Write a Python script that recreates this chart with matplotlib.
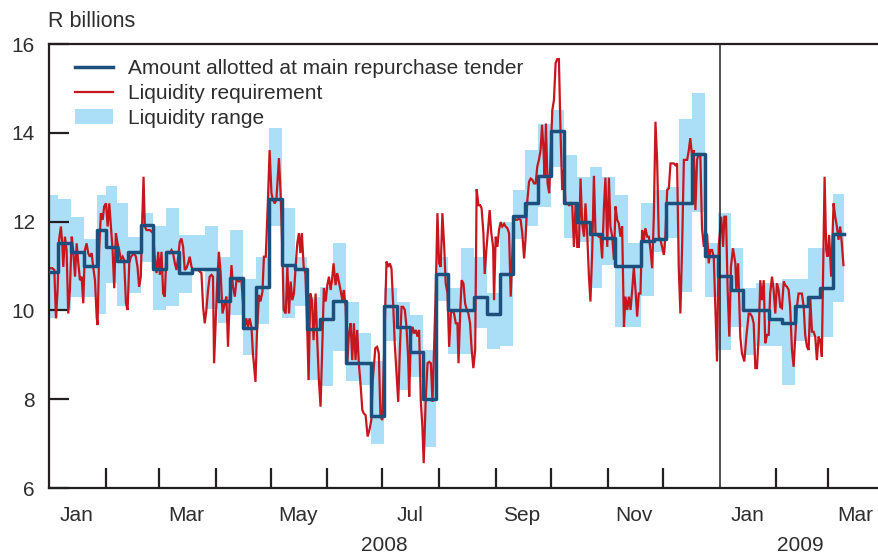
import numpy as np
import pandas as pd
import matplotlib
matplotlib.use("Agg")
import matplotlib.pyplot as plt
import matplotlib.dates as mdates
import matplotlib.transforms as mtransforms
from matplotlib.patches import Patch
from matplotlib.lines import Line2D

plt.rcParams['font.family'] = ['Liberation Sans', 'DejaVu Sans']

# ---------------- data ----------------
# start dates of each allotment / range period (irregular in Jan 2008, then weekly)
early_starts = ['2008-01-01', '2008-01-06', '2008-01-13', '2008-01-20',
                '2008-01-27', '2008-02-01', '2008-02-07']
weekly_first = '2008-02-13'
weekly_count = 56
last_end = '2009-03-10'

allotted = [10.87, 11.51, 11.31, 11.0, 11.81, 11.42, 11.11,
            11.31, 11.92, 10.93, 11.31, 10.84, 10.93, 10.93, 10.21, 10.72, 9.61,
            10.52, 12.52, 11.02, 10.93, 9.59, 9.81, 10.21, 8.81, 8.81, 7.62,
            10.11, 9.62, 9.07, 8.0, 10.81, 10.02, 10.02, 10.31, 9.92, 10.81,
            12.13, 12.43, 13.03, 14.03, 12.41, 12.0, 11.72, 11.62, 11.01, 11.01,
            11.56, 11.61, 12.41, 12.41, 13.52, 11.22, 10.77, 10.46, 10.0, 10.0,
            9.81, 9.72, 10.11, 10.31, 10.51, 11.72]

range_low = [9.82, 10.0, 10.31, 10.31, 9.91, 10.61, 10.11,
             10.4, 11.1, 10.01, 10.11, 10.4, 10.9, 10.03, 9.71, 9.9, 9.0,
             9.69, 11.9, 9.82, 10.1, 8.43, 8.3, 9.09, 8.4, 8.31, 7.0,
             9.32, 8.2, 8.51, 6.92, 10.21, 9.02, 9.02, 9.61, 9.12, 9.2,
             11.6, 11.9, 12.32, 13.22, 11.62, 11.55, 10.51, 11.02, 9.62, 9.62,
             10.32, 11.32, 11.62, 10.42, 12.22, 10.31, 9.11, 9.62, 9.0, 9.2,
             9.2, 8.32, 9.3, 9.41, 9.41, 10.2]

range_high = [12.6, 12.5, 12.11, 11.6, 12.61, 12.8, 12.41,
              11.65, 12.2, 11.9, 12.3, 11.7, 11.7, 11.9, 11.21, 11.81, 10.7,
              11.21, 14.1, 12.31, 11.21, 10.31, 10.53, 11.51, 10.2, 9.48, 8.85,
              10.5, 10.2, 9.9, 9.1, 11.21, 10.5, 11.4, 11.2, 10.4, 12.0,
              12.71, 13.61, 14.2, 14.51, 13.5, 13.01, 13.22, 13.01, 12.6, 11.51,
              12.41, 12.71, 12.79, 14.3, 14.9, 11.51, 12.2, 11.4, 10.5, 10.61,
              10.61, 10.7, 10.7, 11.4, 11.4, 12.62]

# liquidity requirement: days since 2008-01-01 and values (R billions)
req_day = [
    0.5, 1.8, 2.9, 3.8, 4.7, 5.5, 6.5, 7.2, 7.8, 8.7,
    9.6, 10.5, 11.4, 12.4, 13.2, 14.2, 15.1, 16.0, 16.9, 17.8,
    18.7, 19.6, 20.5, 21.4, 22.3, 23.3, 24.1, 25.1, 26.0, 26.5,
    27.4, 28.3, 29.3, 30.1, 31.1, 32.0, 32.9, 33.8, 34.7, 35.6,
    36.5, 37.4, 38.3, 39.2, 40.2, 41.0, 42.0, 42.9, 43.8, 44.7,
    45.6, 46.5, 47.4, 48.3, 49.2, 50.1, 50.8, 51.6, 52.3, 53.2,
    54.1, 55.0, 56.0, 56.8, 57.8, 58.7, 59.6, 60.5, 61.4, 62.3,
    63.2, 64.1, 65.0, 65.9, 66.9, 67.7, 68.7, 69.6, 70.5, 71.4,
    72.3, 73.2, 74.1, 75.0, 75.9, 76.8, 77.8, 78.6, 79.6, 81.4,
    83.2, 84.1, 85.0, 85.9, 86.8, 87.7, 88.7, 89.5, 90.1,
    91.7, 92.7, 93.7, 94.7, 95.9, 96.8, 97.7, 98.6, 99.6, 100.4,
    101.4, 102.3, 103.7, 105.0, 105.9, 106.8, 107.7, 108.6, 109.5, 110.5,
    111.3, 112.7, 113.5, 114.6, 115.4, 116.5, 117.3, 118.3, 119.5, 120.4,
    121.4, 122.2, 123.2, 124.1, 125.5, 126.4, 127.4, 128.1, 129.2, 130.1,
    131.0, 131.9, 132.8, 133.7, 134.6, 135.5, 136.4, 137.2, 138.0, 139.0,
    139.9, 140.8, 141.7, 142.6, 143.5, 144.4, 145.5, 146.4, 147.3, 148.2,
    149.2, 150.0, 151.0, 151.9, 152.8, 153.7, 154.4, 155.3, 156.4, 157.3,
    158.2, 159.1, 160.1, 160.9, 161.9, 162.8, 163.7, 164.6, 165.5, 166.4,
    167.3, 168.2, 169.1, 170.0, 171.0, 171.8, 172.8, 173.9, 174.9, 175.9,
    176.7, 178.1, 179.1, 180.0, 180.9, 181.9,
    184.2, 185.1, 186.0, 186.9, 187.9, 188.7, 189.7, 190.6, 191.5, 192.4,
    193.3, 194.2, 195.1, 196.0, 196.6, 197.5, 198.4, 199.3, 200.2, 201.1,
    202.0, 202.9, 203.8, 204.5, 205.6, 206.6, 207.5, 208.4, 209.3, 210.2,
    211.1, 212.0, 212.9, 213.8, 214.7, 215.7, 216.5, 217.5, 218.4, 219.3,
    220.2, 221.1, 222.0, 222.9, 223.5, 224.4, 225.2, 226.2, 227.1, 228.0,
    228.9, 229.8, 230.7, 231.6, 232.6, 233.4, 234.4, 235.3, 236.1, 237.1,
    237.8, 238.7, 239.6, 240.5, 241.4, 242.4, 242.9, 243.8, 244.7, 245.6,
    246.5, 247.4, 248.4, 249.2, 250.2, 251.1, 252.0, 252.9, 253.8, 254.7,
    255.6, 256.5, 257.4, 258.3, 259.3, 260.1, 261.1, 262.0, 262.9, 263.8,
    264.7, 265.6, 266.5, 267.4, 268.3,
    269.1, 269.9, 270.5, 271.2, 272.1, 273.0, 274.7, 275.6, 276.5, 277.4,
    278.3, 279.2, 280.1, 281.0, 281.9, 282.9, 283.8, 284.7, 285.6, 286.5,
    287.4, 288.3, 289.2, 290.1, 291.0, 292.0, 292.8, 293.8, 294.7, 295.5,
    296.5, 297.4, 298.3, 299.2, 300.1, 301.0, 301.9, 302.9, 303.7, 304.7,
    305.6, 306.4, 307.4, 308.3, 309.2, 310.1, 311.0, 311.9, 312.8, 313.8,
    314.6, 315.6, 316.5, 317.4, 318.3, 319.2, 320.1, 321.0, 321.9, 322.8,
    323.7, 324.7, 325.5, 326.5, 327.4, 328.3, 329.2, 330.1, 331.0, 331.9,
    332.8, 333.7, 334.6, 335.6, 336.4, 337.4, 338.3, 339.2, 340.1, 341.0,
    341.9, 342.8, 343.7, 344.6, 345.5, 346.5, 347.3, 348.3, 349.2, 350.0,
    351.0, 351.9, 352.8, 353.7, 354.6, 355.5, 356.4, 357.4, 358.2, 359.2,
    360.1, 360.9, 361.9, 362.8, 363.7,
    364.6, 365.5, 366.9, 367.9, 368.6, 369.5, 370.4, 371.3, 372.2, 373.3,
    374.6, 375.1, 376.1, 377.3, 378.2, 379.5, 380.6, 381.9, 382.7, 383.7,
    384.6, 385.5, 386.4, 387.3, 388.2, 389.1, 390.1, 390.9, 391.9, 392.8,
    393.6, 394.6, 395.5, 396.4, 397.3, 398.2, 399.1, 400.0, 401.0, 401.8,
    402.8, 403.7, 404.5, 405.5, 406.4, 407.3, 408.2, 409.1, 410.0, 410.9,
    411.9, 412.7, 413.7, 414.6, 415.5, 416.4, 417.3, 418.2, 419.1, 420.0,
    420.9, 421.8, 423.3, 424.2, 424.9, 425.8, 426.9, 428.2, 429.1, 430.0,
    430.9, 431.8, 432.7, 433.6]

req_value = [
    10.95, 10.95, 10.91, 9.82, 10.46, 11.59, 11.89, 11.51, 10.98, 11.66,
    11.36, 9.93, 10.46, 11.66, 11.36, 10.76, 11.51, 11.06, 10.68, 10.76,
    10.16, 11.36, 11.51, 11.29, 11.21, 11.29, 10.98, 10.68, 9.86, 9.67,
    11.36, 12.19, 12.04, 12.34, 12.41, 11.89, 12.41, 11.89, 11.36, 10.5,
    11.74, 11.51, 11.36, 11.14, 11.21, 11.14, 10.16, 10.01, 11.06, 11.21,
    11.25, 11.29, 11.21, 10.98, 10.53, 10.76, 11.89, 13.01, 11.89, 11.81,
    11.81, 11.81, 11.77, 11.74, 11.14, 10.84, 11.32, 10.8, 11.32, 10.38,
    10.31, 11.29, 11.32, 11.29, 11.36, 11.29, 11.06, 10.91, 11.21, 11.55,
    11.62, 11.43, 10.91, 10.95, 11.06, 11.21, 10.98, 10.91, 10.91, 10.91,
    10.84, 10.08, 9.71, 10.01, 10.46, 10.76, 10.8, 10.76, 8.81,
    10.53, 11.32, 10.84, 9.93, 10.16, 10.31, 9.18, 10.23, 11.02, 10.53,
    10.31, 10.68, 10.65, 10.68, 10.16, 9.63, 9.82, 9.63, 9.82, 9.63,
    9.03, 8.39, 9.48, 10.35, 10.2, 10.42, 11.21, 11.21, 12.49, 13.61,
    12.64, 12.49, 12.41, 12.49, 13.43, 12.64, 11.29, 10.01, 9.93, 10.98,
    9.93, 10.65, 10.23, 10.38, 10.98, 11.51, 11.74, 11.29, 11.74, 10.98,
    10.84, 9.78, 8.43, 10.38, 10.23, 9.33, 10.38, 9.33, 8.43, 7.83,
    9.26, 10.5, 10.2, 10.57, 10.76, 10.46, 10.65, 11.06, 10.57, 10.84,
    10.65, 10.46, 10.23, 10.46, 10.08, 8.81, 9.48, 9.71, 8.88, 9.71,
    8.88, 9.56, 8.81, 8.36, 7.76, 7.68, 7.64, 7.16, 7.31, 7.53,
    8.43, 9.15, 9.18, 9.03, 7.61, 7.53,
    11.1, 10.98, 11.06, 10.95, 10.08, 9.26, 8.58, 7.94, 9.11, 10.08,
    10.08, 10.01, 9.63, 8.96, 8.06, 9.41, 9.63, 9.48, 9.56, 9.41,
    9.56, 7.98, 7.38, 6.56, 7.98, 8.81, 8.84, 8.81, 7.94, 9.18,
    10.46, 12.19, 11.06, 10.98, 12.19, 11.43, 10.61, 10.38, 9.18, 9.93,
    10.01, 9.93, 9.71, 9.71, 8.81, 9.93, 10.68, 10.61, 10.16, 10.01,
    9.93, 9.71, 9.11, 8.7, 9.11, 12.73, 12.37, 12.37, 12.3, 11.74,
    10.82, 11.36, 11.81, 12.26, 11.74, 11.43, 10.23, 11.66, 11.43, 11.81,
    11.99, 11.89, 11.95, 11.89, 11.85, 11.74, 10.31, 11.29, 12.11, 12.04,
    12.04, 12.07, 12.04, 11.74, 11.17, 11.62, 12.49, 12.9, 12.97, 12.94,
    12.86, 12.86, 13.24, 13.39, 13.61,
    14.18, 13.61, 13.01, 14.21, 12.86, 12.64, 14.51, 14.74, 15.57, 15.66,
    15.66, 13.99, 12.71, 13.16, 12.41, 12.41, 12.37, 12.41, 12.34, 11.43,
    12.41, 11.43, 11.43, 12.97, 11.96, 11.66, 12.41, 11.66, 10.76, 10.2,
    11.36, 13.03, 11.7, 11.7, 11.66, 11.66, 11.17, 12.34, 12.99, 11.43,
    12.99, 11.89, 11.66, 11.14, 12.34, 12.04, 11.96, 11.66, 11.89, 9.63,
    10.31, 10.01, 10.31, 10.01, 10.46, 10.98, 10.46, 9.86, 10.38, 10.38,
    11.81, 11.59, 11.85, 11.66, 11.66, 11.36, 10.95, 12.11, 14.25, 13.39,
    11.66, 11.59, 11.43, 11.25, 11.66, 12.71, 12.75, 13.31, 13.31, 13.31,
    13.27, 13.31, 10.98, 9.93, 11.36, 13.39, 13.39, 13.39, 13.61, 13.88,
    13.46, 13.61, 12.26, 13.39, 13.54, 13.46, 11.85, 11.43, 11.77, 11.7,
    11.06, 11.36, 11.36, 11.21, 10.01,
    8.85, 11.43, 12.11, 11.43, 12.11, 12.11, 10.46, 9.41, 10.98, 11.4,
    11.06, 10.46, 11.06, 9.41, 9.03, 8.85, 9.41, 9.93, 9.93, 9.86,
    9.71, 8.7, 8.7, 9.41, 10.68, 10.23, 10.68, 9.26, 9.45, 9.45,
    10.38, 10.76, 10.46, 9.93, 10.61, 10.46, 10.08, 10.05, 10.65, 10.57,
    10.53, 10.46, 10.08, 9.11, 8.73, 9.41, 10.08, 10.38, 10.38, 10.38,
    10.08, 9.45, 9.18, 9.11, 10.27, 9.52, 9.52, 9.41, 8.88, 9.41,
    9.33, 8.96, 13.01, 11.36, 11.21, 11.7, 10.76, 12.41, 12.11, 11.89,
    11.59, 11.89, 11.51, 11.02]

month_ticks = ['2008-02-01', '2008-03-01', '2008-04-01', '2008-05-01', '2008-06-01',
               '2008-07-01', '2008-08-01', '2008-09-01', '2008-10-01', '2008-11-01',
               '2008-12-01', '2009-02-01', '2009-03-01']
month_labels = ['Jan', 'Mar', 'May', 'Jul', 'Sep', 'Nov', 'Jan', 'Mar']
month_label_pos = ['2008-01-16', '2008-03-16', '2008-05-16', '2008-07-16',
                   '2008-09-15', '2008-11-15', '2009-01-16', '2009-03-16']
year_labels = ['2008', '2009']
year_label_pos = ['2008-07-02', '2009-02-14']
year_break = '2009-01-01'

# ---------------- build ----------------
assert len(req_day) == len(req_value)
base = pd.Timestamp('2008-01-01')
starts = pd.to_datetime(early_starts).append(
    pd.date_range(weekly_first, periods=weekly_count, freq='7D'))
ends = starts[1:].append(pd.DatetimeIndex([pd.Timestamp(last_end)]))
widths = (ends - starts).days.values.astype(float)
req_dates = base + pd.to_timedelta(np.array(req_day), unit='D')

BAR = '#abdef7'
BLUE = '#1c4f7b'
RED = '#c8161e'
INK = '#231f20'
TXT = '#2e2e2e'

fig = plt.figure(figsize=(8.79, 5.56), dpi=100)
W, H = 879, 556
ax = fig.add_axes([49 / W, 68 / H, 830 / W, 444 / H])

ax.bar(starts, np.array(range_high) - np.array(range_low), width=widths,
       bottom=range_low, align='edge', color=BAR, edgecolor='none', zorder=1)
ax.plot(req_dates, req_value, color=RED, lw=1.6, zorder=2, solid_joinstyle='miter')
step_x = list(starts) + [pd.Timestamp(last_end)]
step_y = list(allotted) + [allotted[-1]]
ax.plot(step_x, step_y, drawstyle='steps-post', color=BLUE, lw=2.5, zorder=3)

ax.axvline(pd.Timestamp(year_break), color=INK, lw=1.1, zorder=4)

ax.set_ylim(6, 16)
ax.set_xlim(base, base + pd.Timedelta(days=453))
ax.set_yticks([6, 8, 10, 12, 14, 16])
ax.tick_params(axis='y', direction='in', length=14.5, width=1.6, color=INK,
               labelsize=15, labelcolor=TXT, pad=10)

ax.xaxis.set_major_locator(matplotlib.ticker.FixedLocator(
    mdates.date2num(pd.to_datetime(month_ticks))))
ax.xaxis.set_major_formatter(matplotlib.ticker.NullFormatter())
ax.xaxis.set_minor_locator(matplotlib.ticker.FixedLocator(
    mdates.date2num(pd.to_datetime(month_label_pos))))
ax.xaxis.set_minor_formatter(matplotlib.ticker.FixedFormatter(month_labels))
ax.tick_params(axis='x', which='major', direction='in', length=14.5, width=1.6, color=INK)
ax.tick_params(axis='x', which='minor', length=0, labelsize=15, labelcolor=TXT, pad=13)

for side in ['left', 'bottom', 'top']:
    ax.spines[side].set_color(INK)
    ax.spines[side].set_linewidth(1.6)
ax.spines['right'].set_visible(False)

trans = mtransforms.blended_transform_factory(ax.transData, ax.transAxes)
for lab, pos in zip(year_labels, year_label_pos):
    ax.text(pd.Timestamp(pos), -(551 - 488) / 444, lab, transform=trans, ha='center',
            va='baseline', fontsize=15, color=TXT)

fig.text(48 / W, 1 - 27 / H, 'R billions', fontsize=15.5, color=TXT, va='baseline', ha='left')

handles = [Line2D([], [], color=BLUE, lw=2.5),
           Line2D([], [], color=RED, lw=1.6),
           Patch(facecolor=BAR, edgecolor='none')]
labels = ['Amount allotted at main repurchase tender', 'Liquidity requirement', 'Liquidity range']
leg = ax.legend(handles, labels, loc='upper left', bbox_to_anchor=(0.031, 0.966),
                frameon=False, fontsize=15, handlelength=1.85, handletextpad=0.7,
                labelspacing=0.28, borderaxespad=0, borderpad=0)
for t in leg.get_texts():
    t.set_color(TXT)

fig.savefig('out.png', dpi=100)
